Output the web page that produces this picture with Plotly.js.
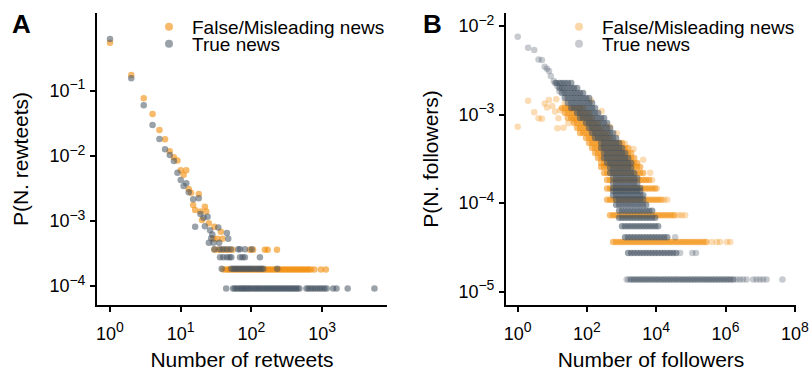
<!DOCTYPE html>
<html><head><meta charset="utf-8">
<script src="https://cdn.plot.ly/plotly-3.0.1.min.js"></script>
<style>html,body{margin:0;padding:0;background:#fff;}#chart{width:811px;height:379px;}</style>
</head><body><div id="chart"></div>
<script>
// ---------- series & ticks ----------
const seriesNames = ['False/Misleading news', 'True news'];
const panelLabels = ['A', 'B'];
const axisTitlesX = ['Number of retweets', 'Number of followers'];
const axisTitlesY = ['P(N. rewteets)', 'P(N. followers)'];

const rtXTickVals = [1, 10, 100, 1000];
const rtXTickExp = ['0', '1', '2', '3'];
const rtYTickVals = [1e-4, 1e-3, 1e-2, 1e-1];
const rtYTickExp = ['−4', '−3', '−2', '−1'];
const folXTickVals = [1, 1e2, 1e4, 1e6, 1e8];
const folXTickExp = ['0', '2', '4', '6', '8'];
const folYTickVals = [1e-5, 1e-4, 1e-3, 1e-2];
const folYTickExp = ['−5', '−4', '−3', '−2'];

// ---------- Panel A: number of retweets ----------
const rtFalseX = [1, 2, 3, 4, 5, 6, 7, 8, 9, 10, 11, 12, 13, 14, 15, 16, 18, 19, 20, 22, 23, 25, 29, 30, 33, 37, 39];
const rtFalseY = [0.546, 0.175, 0.0763, 0.0439, 0.0249, 0.0179, 0.0118, 0.0095, 0.0085, 0.006, 0.0051, 0.006, 0.0031, 0.0027, 0.00175, 0.00147, 0.0026, 0.00139, 0.00103, 0.00165, 0.00139, 0.00092, 0.00053, 0.00081, 0.00053, 0.00068, 0.00053];
const rtFalseRowLevels = [1.8e-4, 3.6e-4];
const rtFalseRowX = [
  [40, 44, 47, 50, 54, 58, 62, 66, 71, 76, 81, 87, 93, 100, 107, 115, 123, 132, 141, 151, 162, 174, 186, 200, 214, 229, 246, 263, 282, 302, 324, 347, 372, 398, 427, 457, 490, 525, 562, 602, 645, 690, 776, 960, 1130],
  [30, 34, 38, 43, 48, 54, 95, 106, 155, 170, 230]
];
const rtTrueX = [1, 2, 3, 4, 5, 6, 7, 8, 9, 10, 11, 12, 13, 15, 16, 18, 19, 21, 22, 24, 25, 26, 27, 28, 29, 34, 35, 45, 47];
const rtTrueY = [0.622, 0.155, 0.0596, 0.0297, 0.0181, 0.0126, 0.0103, 0.0083, 0.0055, 0.00425, 0.00344, 0.0038, 0.00276, 0.00215, 0.00081, 0.00223, 0.00128, 0.00112, 0.00083, 0.00116, 0.00046, 0.00072, 0.00054, 0.00062, 0.00046, 0.00079, 0.00046, 0.00065, 0.00053];
const rtTrueRowLevels = [9.16e-5, 1.84e-4, 2.76e-4, 3.68e-4];
const rtTrueRowX = [
  [44, 55, 58, 62, 66, 70, 74, 78, 82, 87, 92, 97, 103, 110, 116, 123, 130, 138, 147, 156, 165, 175, 186, 197, 209, 222, 235, 250, 265, 280, 298, 316, 335, 355, 378, 400, 425, 450, 478, 600, 640, 690, 740, 800, 860, 930, 1000, 1080, 1160, 1430, 1600, 2300, 5500],
  [38, 52, 56, 60, 64, 69, 74, 79, 85, 91, 97, 104, 112, 120, 129, 138, 147, 232],
  [36, 40, 45, 49, 52, 69, 75, 81, 132],
  [30, 36, 40, 45, 51, 65, 69, 81, 101]
];

// ---------- Panel B: number of followers ----------
const folFalseX = [1, 2, 3, 4, 5, 6, 7, 8, 10, 12, 13, 14, 15, 17, 21, 23, 29, 32, 40, 130, 265, 370, 460, 720, 1250, 2200, 4200, 6700, 7610, 10400, 16900, 20700, 35000, 44500, 54500, 68000, 402000, 560000, 700000, 1090000, 1370000];
const folFalseY = [7.3e-4, 1.43e-3, 1.06e-3, 9.1e-4, 9.0e-4, 1.33e-3, 1.2e-3, 1.46e-3, 1.25e-3, 1.08e-3, 1.49e-3, 7.0e-4, 9.1e-4, 1.12e-3, 7.1e-4, 1.34e-3, 8.0e-4, 1.17e-3, 8.7e-4, 1.44e-3, 1.1e-3, 7.4e-4, 7.3e-4, 6.1e-4, 4.7e-4, 4.1e-4, 3.1e-4, 2.2e-4, 1.825e-4, 1.46e-4, 1.095e-4, 1.095e-4, 7.3e-5, 7.3e-5, 7.3e-5, 7.3e-5, 3.65e-5, 3.65e-5, 3.65e-5, 3.65e-5, 3.65e-5];
const folFalseRowLevels = [1.19e-3, 1.04e-3, 9.15e-4, 8.03e-4, 7.05e-4, 6.19e-4, 5.44e-4, 4.78e-4, 4.19e-4, 3.68e-4, 3.23e-4, 2.84e-4, 2.555e-4, 2.19e-4, 1.825e-4, 1.46e-4, 1.095e-4, 7.3e-5, 3.65e-5];
const folFalseRowX = [
  [19, 23, 28, 35, 42, 52, 63, 77],
  [23, 28, 35, 42, 52, 63, 77, 94, 115],
  [28, 35, 42, 52, 63, 77, 94, 115, 140],
  [42, 52, 63, 77, 94, 115, 140, 171, 209],
  [52, 63, 77, 94, 115, 140, 171, 209, 256],
  [63, 77, 94, 115, 140, 171, 209, 256, 312, 381],
  [94, 115, 140, 171, 209, 256, 312, 381, 465],
  [115, 140, 171, 209, 256, 312, 381, 465, 568, 693, 847, 1030],
  [140, 171, 209, 256, 312, 381, 465, 568, 693, 847, 1030, 1260, 1540],
  [171, 209, 256, 312, 381, 465, 568, 693, 847, 1030, 1260, 1540, 1880],
  [209, 256, 312, 381, 465, 568, 693, 847, 1030, 1260, 1540, 1880, 2300],
  [256, 312, 381, 465, 568, 693, 847, 1030, 1260, 1540, 1880, 2300, 2810],
  [256, 312, 381, 465, 568, 693, 847, 1030, 1260, 1540, 1880, 2300, 2810, 3430],
  [312, 381, 465, 568, 693, 847, 1030, 1260, 1540, 1880, 2300, 2810, 3430, 4180],
  [381, 465, 568, 693, 847, 1030, 1260, 1540, 1880, 2300, 2810, 3430, 4180, 5110, 6230],
  [381, 465, 568, 693, 847, 1030, 1260, 1540, 1880, 2300, 2810, 3430, 4180, 5110, 6230, 7610, 9290],
  [381, 465, 568, 693, 847, 1030, 1260, 1540, 1880, 2300, 2810, 3430, 4180, 5110, 6230, 7610, 9290, 11300, 13900],
  [465, 568, 693, 847, 1030, 1260, 1540, 1880, 2300, 2810, 3430, 4180, 5110, 6230, 7610, 9290, 11300, 13900, 16900, 20700, 25200, 30800],
  [568, 693, 847, 1030, 1260, 1540, 1880, 2300, 2810, 3430, 4180, 5110, 6230, 7610, 9290, 11300, 13900, 16900, 20700, 25200, 30800, 37600, 45900, 56100, 68400, 83600, 102000, 125000, 152000, 186000, 227000, 277000]
];
const folTrueX = [1, 2, 3, 4, 5, 6, 7, 8, 9, 11, 12, 14, 16, 35200, 49000, 110000, 140000, 1400, 1600, 2100000, 2600000, 3200000, 4050000, 6300000, 7900000, 9800000, 12200000, 15300000, 44000000];
const folTrueY = [7.57e-3, 5.7e-3, 5.36e-3, 4.2e-3, 4.14e-3, 3.47e-3, 3.3e-3, 3.1e-3, 2.72e-3, 2.39e-3, 2.28e-3, 2.1e-3, 1.84e-3, 4.11e-5, 2.74e-5, 2.74e-5, 2.74e-5, 1.37e-5, 1.37e-5, 1.37e-5, 1.37e-5, 1.37e-5, 1.37e-5, 1.37e-5, 1.37e-5, 1.37e-5, 1.37e-5, 1.37e-5, 1.37e-5];
const folTrueRowLevels = [2.27e-3, 2.0e-3, 1.75e-3, 1.54e-3, 1.35e-3, 1.19e-3, 1.04e-3, 9.15e-4, 8.03e-4, 7.05e-4, 6.19e-4, 5.44e-4, 4.78e-4, 4.19e-4, 3.68e-4, 3.23e-4, 2.84e-4, 2.49e-4, 2.19e-4, 1.92e-4, 1.69e-4, 1.48e-4, 1.37e-4, 1.23e-4, 1.1e-4, 9.6e-5, 8.22e-5, 6.85e-5, 5.48e-5, 4.11e-5, 2.74e-5, 1.37e-5];
const folTrueRowX = [
  [13, 16, 19, 23, 28, 35],
  [16, 19, 23, 28, 35, 42, 52],
  [19, 23, 28, 35, 42, 52, 63, 77],
  [23, 28, 35, 42, 52, 63, 77, 94, 115],
  [28, 35, 42, 52, 63, 77, 94, 115, 140],
  [35, 42, 52, 63, 77, 94, 115, 140, 171],
  [52, 63, 77, 94, 115, 140, 171, 209],
  [63, 77, 94, 115, 140, 171, 209, 256, 312],
  [94, 115, 140, 171, 209, 256, 312, 381],
  [115, 140, 171, 209, 256, 312, 381, 465],
  [140, 171, 209, 256, 312, 381, 465, 568],
  [171, 209, 256, 312, 381, 465, 568, 693],
  [256, 312, 381, 465, 568, 693, 847],
  [256, 312, 381, 465, 568, 693, 847, 1030],
  [312, 381, 465, 568, 693, 847, 1030, 1260],
  [312, 381, 465, 568, 693, 847, 1030, 1260, 1540],
  [381, 465, 568, 693, 847, 1030, 1260, 1540, 1880],
  [465, 568, 693, 847, 1030, 1260, 1540, 1880],
  [465, 568, 693, 847, 1030, 1260, 1540, 1880, 2300],
  [568, 693, 847, 1030, 1260, 1540, 1880, 2300, 2810],
  [568, 693, 847, 1030, 1260, 1540, 1880, 2300, 2810],
  [568, 693, 847, 1030, 1260, 1540, 1880, 2300, 2810, 3430],
  [568, 693, 847, 1030, 1260, 1540, 1880, 2300, 2810, 3430],
  [568, 693, 847, 1030, 1260, 1540, 1880, 2300, 2810, 3430, 4180],
  [693, 847, 1030, 1260, 1540, 1880, 2300, 2810, 3430, 4180],
  [693, 847, 1030, 1260, 1540, 1880, 2300, 2810, 3430, 4180, 5110],
  [847, 1030, 1260, 1540, 1880, 2300, 2810, 3430, 4180, 5110, 6230, 7610],
  [847, 1030, 1260, 1540, 1880, 2300, 2810, 3430, 4180, 5110, 6230, 7610, 9290],
  [1030, 1260, 1540, 1880, 2300, 2810, 3430, 4180, 5110, 6230, 7610, 9290, 11300],
  [1260, 1540, 1880, 2300, 2810, 3430, 4180, 5110, 6230, 7610, 9290, 11300, 13900, 16900, 20700],
  [1540, 1880, 2300, 2810, 3430, 4180, 5110, 6230, 7610, 9290, 11300, 13900, 16900, 20700, 25200, 30800, 37600],
  [1880, 2300, 2810, 3430, 4180, 5110, 6230, 7610, 9290, 11300, 13900, 16900, 20700, 25200, 30800, 37600, 45900, 56100, 68400, 83600, 102000, 125000, 152000, 186000, 227000, 277000, 338000, 413000, 504000, 615000, 751000, 917000, 1120000, 1370000, 1670000]
];

// ---------- build ----------
const ORANGE = 'rgb(242,140,8)';
const GRAY = 'rgb(70,84,99)';
const FONT = 'Liberation Sans, Arial, Helvetica, sans-serif';
const powText = e => '10<sup><span style="font-size:14px">' + e + '</span></sup>';

function rows(levels, xs) {
  const x = [], y = [];
  xs.forEach((r, i) => r.forEach(v => { x.push(v); y.push(levels[i]); }));
  return {x, y};
}
function pts(x, y, color, op, xa, ya) {
  return {type: 'scatter', mode: 'markers', x, y, xaxis: xa, yaxis: ya, showlegend: false,
    hoverinfo: 'skip', marker: {color, opacity: op, size: 6.5, line: {width: 0}}};
}
function legendItem(name, color, op, lg, xa, ya) {
  return {type: 'scatter', mode: 'markers', x: [null], y: [null], xaxis: xa, yaxis: ya,
    name, legend: lg, showlegend: true, marker: {color, opacity: op, size: 8, line: {width: 0}}};
}

const rfr = rows(rtFalseRowLevels, rtFalseRowX);
const rtr = rows(rtTrueRowLevels, rtTrueRowX);
const ffr = rows(folFalseRowLevels, folFalseRowX);
const ftr = rows(folTrueRowLevels, folTrueRowX);

const traces = [
  pts(rtFalseX.concat(rfr.x), rtFalseY.concat(rfr.y), ORANGE, 0.6, 'x', 'y'),
  pts(rtTrueX.concat(rtr.x), rtTrueY.concat(rtr.y), GRAY, 0.55, 'x', 'y'),
  legendItem(seriesNames[0], ORANGE, 0.6, 'legend', 'x', 'y'),
  legendItem(seriesNames[1], GRAY, 0.55, 'legend', 'x', 'y'),
  pts(folFalseX, folFalseY, ORANGE, 0.3, 'x2', 'y2'),
  pts(ffr.x, ffr.y, ORANGE, 0.55, 'x2', 'y2'),
  pts(folTrueX, folTrueY, GRAY, 0.3, 'x2', 'y2'),
  pts(ftr.x, ftr.y, GRAY, 0.55, 'x2', 'y2'),
  legendItem(seriesNames[0], ORANGE, 0.35, 'legend2', 'x2', 'y2'),
  legendItem(seriesNames[1], GRAY, 0.3, 'legend2', 'x2', 'y2')
];

function axis(domain, range, vals, exps, title, anchor, standoff, isX) {
  return {type: 'log', domain, range, anchor, tickmode: 'array', tickvals: vals, ticktext: exps.map(powText),
    showline: true, linecolor: '#000', linewidth: 2, ticks: 'outside', ticklen: 5, tickwidth: 2,
    tickcolor: '#000', showgrid: false, zeroline: false, fixedrange: true,
    ticklabelstandoff: isX ? 6 : 1,
    tickfont: {family: FONT, size: 18, color: '#000'},
    title: {text: title, font: {family: FONT, size: 21, color: '#000'}, standoff}};
}
const yDom = [74 / 379, 366 / 379];
const layout = {
  width: 811, height: 379, margin: {l: 0, r: 0, t: 0, b: 0},
  paper_bgcolor: '#fff', plot_bgcolor: '#fff', font: {family: FONT, color: '#000'},
  xaxis: axis([97 / 811, 387 / 811], [-0.184, 3.918], rtXTickVals, rtXTickExp, axisTitlesX[0], 'y', 10, true),
  yaxis: axis(yDom, [-4.292, 0.194], rtYTickVals, rtYTickExp, axisTitlesY[0], 'x', 15, false),
  xaxis2: axis([506 / 811, 796 / 811], [-0.338, 8.035], folXTickVals, folXTickExp, axisTitlesX[1], 'y2', 10, true),
  yaxis2: axis(yDom, [-5.150, -1.853], folYTickVals, folYTickExp, axisTitlesY[1], 'x2', 14, false),
  legend: {x: 146 / 811, y: 1 - 8 / 379, xanchor: 'left', yanchor: 'top', bgcolor: 'rgba(0,0,0,0)',
    font: {family: FONT, size: 19, color: '#000'}, itemclick: false, itemwidth: 36},
  legend2: {x: 556 / 811, y: 1 - 8 / 379, xanchor: 'left', yanchor: 'top', bgcolor: 'rgba(0,0,0,0)',
    font: {family: FONT, size: 19, color: '#000'}, itemclick: false, itemwidth: 36},
  annotations: [
    {text: '<b>' + panelLabels[0] + '</b>', xref: 'paper', yref: 'paper', x: 10 / 811, y: 1 - 24 / 379,
      xanchor: 'left', yanchor: 'middle', showarrow: false, font: {family: FONT, size: 26, color: '#000'}},
    {text: '<b>' + panelLabels[1] + '</b>', xref: 'paper', yref: 'paper', x: 421 / 811, y: 1 - 24 / 379,
      xanchor: 'left', yanchor: 'middle', showarrow: false, font: {family: FONT, size: 26, color: '#000'}}
  ]
};

Plotly.newPlot('chart', traces, layout, {staticPlot: true, displayModeBar: false}).then(gd => {
  gd.querySelectorAll('g.legend, g.legend2').forEach(lg => {
    const items = lg.querySelectorAll('g.traces');
    if (items.length < 2) return;
    const m0 = /translate\(([-\d.]+),\s*([-\d.]+)\)/.exec(items[0].getAttribute('transform') || '');
    const m1 = /translate\(([-\d.]+),\s*([-\d.]+)\)/.exec(items[1].getAttribute('transform') || '');
    if (m0 && m1) items[1].setAttribute('transform', 'translate(' + m1[1] + ',' + (parseFloat(m0[2]) + 17) + ')');
  });
});
</script>
</body></html>
